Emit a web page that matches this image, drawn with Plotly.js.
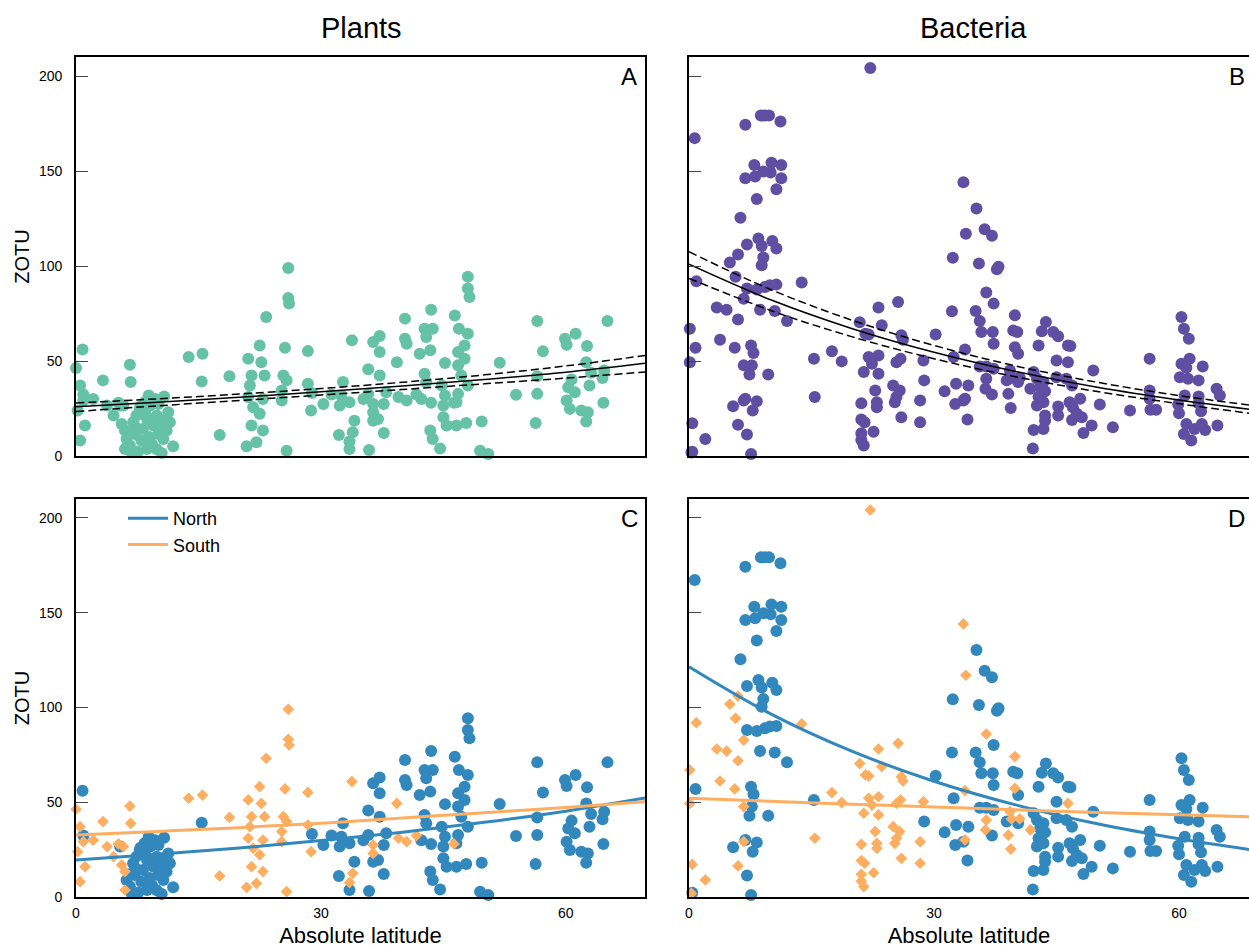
<!DOCTYPE html>
<html>
<head>
<meta charset="utf-8">
<script src="https://cdn.plot.ly/plotly-3.0.1.min.js"></script>
<style>html,body{margin:0;padding:0;background:#fff;}#chart{width:1249px;height:948px;}</style>
</head>
<body>
<div id="chart"></div>
<script>
// ---------------- DATA ----------------
const tickLat = [0, 30, 60];
const tickZotu = [0, 50, 100, 150, 200];
const columnTitles = ["Plants", "Bacteria"];
const panelLetters = ["A", "B", "C", "D"];

// Plants, northern hemisphere samples
const plantsNorthLat = [0.8,0.9,5.4,15.4,8.9,10.8,7.8,9.1,10.1,11.3,11.5,11.1,10.7,11.9,10.5,7.6,6.6,6.2,7.2,8.2,9.5,8.7,7.4,9.9,8.0,9.3,10.1,8.7,7.0,10.7,9.7,8.4,6.8,9.9,7.3,8.5,10.4,9.0,6.5,7.9,
  28.9,30.3,31.3,32.7,32.5,32.3,33.5,34.1,32.2,33.5,35.9,36.4,37.2,37.2,35.8,37.2,35.2,35.8,37.7,37.0,36.4,37.7,38.0,40.3,40.3,40.5,42.7,42.9,43.5,43.7,42.1,43.4,45.2,42.7,42.9,42.3,43.5,44.8,45.2,45.0,45.0,45.4,43.4,43.7,44.6,
  48.0,48.0,48.2,46.4,46.9,48.0,47.6,46.8,47.6,46.8,47.2,48.0,46.8,46.6,46.6,47.8,49.7,49.5,50.5,51.9,53.9,56.5,57.2,56.5,56.5,56.3,59.9,60.1,61.2,62.6,62.5,63.1,60.7,60.3,61.1,60.1,60.5,61.9,62.7,62.5,62.9,64.6,64.7,64.5,65.1];
const plantsNorthZotu = [56.1,32.4,26.6,39.2,31.8,31.3,24.8,26.6,27.4,23.0,17.8,13.4,9.0,5.1,1.6,2.3,5.5,9.0,11.6,14.2,16.0,19.5,21.3,21.3,8.1,6.3,11.6,3.7,17.8,16.9,30.0,28.3,2.0,3.5,15.0,22.0,19.0,10.0,12.0,26.0,
  33.2,27.4,32.4,38.9,31.8,26.6,28.3,18.6,11.1,3.7,3.2,60.0,63.1,54.7,45.6,42.4,30.0,32.7,27.4,19.5,18.6,12.1,33.6,72.3,61.7,59.1,67.0,62.6,77.0,67.0,53.8,55.6,49.0,43.3,38.9,30.0,28.0,37.1,31.8,26.6,20.4,16.0,13.4,9.0,4.0,
  94.3,88.1,83.7,74.0,67.0,64.4,58.2,54.7,51.2,47.7,42.4,37.1,32.7,28.3,16.0,17.4,18.1,2.8,1.1,49.1,32.2,71.1,55.1,42.0,32.7,17.4,61.7,58.6,64.4,57.9,49.4,43.8,40.3,36.2,33.6,29.2,24.8,23.9,23.0,18.1,37.1,28.0,45.0,41.0,71.1];

// Plants, southern hemisphere samples
const plantsSouthLat = [0.0,0.5,0.9,0.2,1.1,0.5,2.1,3.3,3.8,4.6,5.2,5.8,5.6,6.0,6.6,6.7,6.0,13.8,15.5,18.8,17.6,21.1,21.5,21.3,22.7,22.5,23.3,23.1,21.1,21.7,22.5,22.9,21.5,22.9,22.1,20.9,26.0,26.0,26.1,25.6,28.4,33.8,25.4,25.8,28.4,25.2,25.2,28.8,25.8,33.9,33.5,36.4,36.4,39.3,39.5,40.5,41.7,46.3];
const plantsSouthZotu = [46.3,37.1,29.2,23.9,16.0,8.1,30.0,39.8,26.6,21.3,28.0,26.6,16.9,13.4,48.0,38.9,3.7,52.1,53.8,42.0,11.1,51.2,42.4,37.1,49.4,58.2,73.2,42.4,31.0,25.7,22.2,30.0,16.0,13.4,7.2,5.1,99.0,83.2,80.2,57.0,55.2,60.9,42.4,39.8,38.0,34.5,29.2,23.9,2.8,12.5,7.6,27.4,23.0,49.4,31.0,29.2,32.4,28.0];

// Bacteria, northern hemisphere samples
const bactNorthLat = [0.7,6.9,8.8,9.3,9.8,11.2,8.0,10.1,11.3,6.9,8.1,9.1,10.0,11.3,10.7,8.3,6.3,8.5,7.1,8.9,10.2,10.7,9.1,8.9,7.1,8.3,9.3,9.9,10.7,8.7,10.5,12.0,0.8,7.6,7.9,7.7,7.4,9.7,15.3,6.9,8.3,5.4,7.8,7.1,7.6,0.4,
  35.2,36.2,37.1,32.3,35.5,37.7,37.9,37.3,32.2,35.1,35.6,35.8,37.2,37.3,30.2,32.4,35.6,36.4,37.3,28.8,31.3,32.7,32.6,33.6,34.2,34.1,37.1,39.7,40.2,40.3,40.3,38.9,43.7,43.2,44.6,45.2,42.8,46.4,46.7,45.0,
  42.2,42.6,43.4,43.0,43.6,42.8,45.0,46.2,46.9,43.4,42.6,45.2,45.2,46.6,47.9,47.0,47.5,48.1,46.9,43.6,43.6,43.4,42.2,49.3,48.3,49.5,50.3,51.9,54.0,42.1,
  56.4,56.4,56.4,56.5,57.2,60.3,60.6,61.2,61.3,60.3,60.9,62.9,60.1,61.1,62.4,60.7,62.4,59.9,62.4,60.0,62.7,64.6,65.0,60.9,61.9,62.8,63.2,64.7,60.6,61.5];
const bactNorthZotu = [167.3,174.3,179.2,179.2,179.2,176.1,153.2,154.4,153.2,146.2,147.1,149.7,149.2,146.2,140.4,135.3,125.4,114.5,111.3,110.5,113.1,109.2,104.5,100.4,88.1,87.6,89.0,89.9,90.2,77.0,76.3,71.1,57.0,58.2,54.2,47.7,42.9,42.9,51.2,30.1,28.8,26.2,23.9,11.3,1.1,2.3,
  130.3,119.4,115.9,104.3,101.3,98.3,99.6,80.2,76.2,76.3,71.1,65.3,65.3,59.1,64.0,52.1,47.1,47.1,45.9,39.8,34.1,38.0,27.4,29.2,37.1,19.2,32.4,66.1,65.3,53.8,38.9,39.8,70.5,65.6,65.3,63.0,58.2,58.2,57.9,50.3,
  44.2,40.6,38.9,36.2,34.1,31.0,41.5,40.6,37.1,28.3,26.6,26.0,21.3,28.3,30.1,25.7,22.2,20.4,19.0,21.3,18.6,14.2,13.7,16.0,12.1,45.0,27.1,15.1,23.9,4.0,
  51.2,34.5,30.1,24.3,24.3,73.2,67.0,61.7,51.2,48.5,46.4,47.1,41.5,40.6,39.8,31.8,31.3,27.1,27.8,22.5,23.6,35.4,31.8,16.9,14.2,16.9,13.7,16.0,11.6,8.1];

// Bacteria, southern hemisphere samples
const bactSouthLat = [22.2,0.9,5.0,5.7,6.0,6.7,3.4,4.6,6.0,0.1,3.8,5.6,0.1,6.7,13.8,17.5,18.7,15.4,6.7,0.4,2.0,6.0,0.3,23.2,20.9,21.6,22.0,23.6,22.0,23.2,22.4,21.4,23.2,22.8,23.0,23.0,21.1,21.1,21.5,22.6,21.1,21.1,21.4,33.6,33.9,36.4,25.6,26.0,26.2,25.4,25.9,28.7,25.0,25.8,25.4,25.2,26.0,28.3,28.3,33.8,33.8,36.4,36.3,39.1,39.4,39.9,39.9,39.3,40.5,39.5,41.8,46.4];
const bactSouthZotu = [204.2,92.0,101.8,94.3,106.0,82.8,78.1,77.0,71.9,67.0,61.2,57.0,49.4,47.7,91.3,55.1,49.8,31.0,29.2,17.2,9.0,16.4,1.9,78.1,70.4,64.4,63.9,68.8,52.1,52.9,48.5,44.2,43.3,34.5,28.3,25.7,27.8,19.2,17.8,12.8,12.0,8.4,5.5,144.1,117.0,86.0,81.1,63.5,61.2,49.4,51.2,50.3,37.1,34.5,31.0,28.3,20.4,29.2,17.8,56.1,30.1,40.6,35.4,32.7,25.3,74.1,57.3,45.0,41.2,41.2,35.4,49.4];

// Fitted curves
const fitLatPlants = [0, 10, 20, 30, 40, 50, 60, 69.7];
const plantsFit = [25.9, 28.3, 30.9, 33.8, 36.9, 40.3, 44.1, 48.8];
const plantsFitUpper = [27.9, 30.1, 32.6, 35.5, 38.8, 42.7, 47.4, 52.9];
const plantsFitLower = [23.4, 26.4, 29.2, 32.1, 35.0, 38.0, 41.0, 44.2];
const plantsNorthFit = [19.5, 22.5, 25.8, 29.8, 34.2, 39.4, 45.3, 52.2];
const plantsSouthFit = [32.7, 34.6, 36.6, 38.9, 41.7, 44.5, 47.2, 50.2];

const fitLatBact = [0, 10, 20, 30, 40, 50, 60, 68.6];
const bactFit = [100.9, 82.2, 67.0, 54.6, 44.5, 36.2, 29.5, 24.6];
const bactFitUpper = [107.5, 87.6, 71.4, 58.2, 47.4, 38.8, 31.8, 26.8];
const bactFitLower = [93.5, 76.6, 62.7, 51.2, 41.7, 33.9, 27.5, 22.5];
const bactNorthFit = [121.5, 96.6, 76.8, 61.1, 48.6, 38.6, 30.7, 25.1];
const bactSouthFit = [52.1, 50.5, 49.0, 47.5, 46.0, 44.6, 43.4, 42.3];

// ---------------- STYLE ----------------
const W = 1249, H = 948;
const FONT = 'Liberation Sans, Arial, Helvetica, sans-serif';
const GREEN = '#66c2a5', PURPLE = '#5e4fa2', BLUE = '#3288bd', ORANGE = '#fdae61';
const px = v => v / W;
const py = v => 1 - v / H;

function pts(x, y, color, symbol, size, xa, ya, name) {
  return {type: 'scatter', mode: 'markers', x: x, y: y, xaxis: xa, yaxis: ya, name: name,
    showlegend: false, cliponaxis: false, hoverinfo: 'x+y',
    marker: {color: color, size: size, symbol: symbol, line: {width: 0}}};
}
function ln(x, y, color, width, dash, xa, ya, name, legend) {
  return {type: 'scatter', mode: 'lines', x: x, y: y, xaxis: xa, yaxis: ya, name: name,
    showlegend: !!legend, line: {color: color, width: width, dash: dash, shape: 'spline'}, hoverinfo: 'skip'};
}

const traces = [
  // A
  pts(plantsNorthLat.concat(plantsSouthLat), plantsNorthZotu.concat(plantsSouthZotu), GREEN, 'circle', 12, 'x', 'y', 'Plants'),
  ln(fitLatPlants, plantsFitUpper, 'black', 1.5, '8px,4px', 'x', 'y', 'upper'),
  ln(fitLatPlants, plantsFitLower, 'black', 1.5, '8px,4px', 'x', 'y', 'lower'),
  ln(fitLatPlants, plantsFit, 'black', 1.5, 'solid', 'x', 'y', 'fit'),
  // B
  pts(bactNorthLat.concat(bactSouthLat), bactNorthZotu.concat(bactSouthZotu), PURPLE, 'circle', 12, 'x2', 'y2', 'Bacteria'),
  ln(fitLatBact, bactFitUpper, 'black', 1.5, '8px,4px', 'x2', 'y2', 'upper'),
  ln(fitLatBact, bactFitLower, 'black', 1.5, '8px,4px', 'x2', 'y2', 'lower'),
  ln(fitLatBact, bactFit, 'black', 1.5, 'solid', 'x2', 'y2', 'fit'),
  // C
  pts(plantsNorthLat, plantsNorthZotu, BLUE, 'circle', 12, 'x3', 'y3', 'North'),
  pts(plantsSouthLat, plantsSouthZotu, ORANGE, 'diamond', 9, 'x3', 'y3', 'South'),
  ln(fitLatPlants, plantsNorthFit, BLUE, 3, 'solid', 'x3', 'y3', 'North', true),
  ln(fitLatPlants, plantsSouthFit, ORANGE, 3, 'solid', 'x3', 'y3', 'South', true),
  // D
  pts(bactNorthLat, bactNorthZotu, BLUE, 'circle', 12, 'x4', 'y4', 'North'),
  pts(bactSouthLat, bactSouthZotu, ORANGE, 'diamond', 9, 'x4', 'y4', 'South'),
  ln(fitLatBact, bactNorthFit, BLUE, 3, 'solid', 'x4', 'y4', 'North'),
  ln(fitLatBact, bactSouthFit, ORANGE, 3, 'solid', 'x4', 'y4', 'South')
];

const leftX = [px(76), px(645)];
const rightX = [px(689), 1];
const topY = [py(456), py(57)];
const botY = [py(897), py(499)];

function xaxis(domain, range, anchor, labels, title) {
  const a = {domain: domain, range: range, anchor: anchor, showline: true, mirror: true,
    linecolor: 'black', linewidth: 1.6, ticks: '', showgrid: false, zeroline: false,
    tickvals: tickLat, showticklabels: labels, tickfont: {size: 14, color: 'black'}, ticklabelstandoff: 2, fixedrange: true};
  if (title) a.title = {text: title, font: {size: 22, color: 'black'}, standoff: 10};
  return a;
}
function yaxis(domain, anchor, labels, mirror, title) {
  const a = {domain: domain, range: [0, 210], anchor: anchor, showline: true, mirror: mirror,
    linecolor: 'black', linewidth: 1.6, ticks: 'inside', ticklen: 12, tickwidth: 1, tickcolor: '#444',
    tickvals: tickZotu, showticklabels: labels, tickfont: {size: 14, color: 'black'}, ticklabelstandoff: 9,
    showgrid: false, zeroline: false, fixedrange: true};
  if (title) a.title = {text: title, font: {size: 20, color: 'black'}, standoff: 4};
  return a;
}

const layout = {
  width: W, height: H,
  margin: {l: 0, r: 0, t: 0, b: 0, pad: 0},
  paper_bgcolor: 'white', plot_bgcolor: 'white',
  font: {family: FONT, color: 'black'},
  showlegend: true,
  legend: {x: px(123), y: py(500), xanchor: 'left', yanchor: 'top', bgcolor: 'rgba(0,0,0,0)',
    font: {size: 18, color: 'black'}, borderwidth: 0, itemwidth: 40, tracegroupgap: 0},
  xaxis: xaxis(leftX, [0, 69.7], 'y', false),
  yaxis: yaxis(topY, 'x', true, true, 'ZOTU'),
  xaxis2: xaxis(rightX, [0, 68.57], 'y2', false),
  yaxis2: yaxis(topY, 'x2', false, false),
  xaxis3: xaxis(leftX, [0, 69.7], 'y3', true, 'Absolute latitude'),
  yaxis3: yaxis(botY, 'x3', true, true, 'ZOTU'),
  xaxis4: xaxis(rightX, [0, 68.57], 'y4', true, 'Absolute latitude'),
  yaxis4: yaxis(botY, 'x4', false, false),
  annotations: [
    {text: columnTitles[0], x: px(361), y: py(28), xref: 'paper', yref: 'paper', xanchor: 'center', yanchor: 'middle', showarrow: false, font: {size: 29}},
    {text: columnTitles[1], x: px(973.5), y: py(28), xref: 'paper', yref: 'paper', xanchor: 'center', yanchor: 'middle', showarrow: false, font: {size: 29}},
    {text: panelLetters[0], x: px(629), y: py(76), xref: 'paper', yref: 'paper', xanchor: 'center', yanchor: 'middle', showarrow: false, font: {size: 24}},
    {text: panelLetters[1], x: px(1247), y: py(76), xref: 'paper', yref: 'paper', xanchor: 'right', yanchor: 'middle', showarrow: false, font: {size: 24}},
    {text: panelLetters[2], x: px(629), y: py(518), xref: 'paper', yref: 'paper', xanchor: 'center', yanchor: 'middle', showarrow: false, font: {size: 24}},
    {text: panelLetters[3], x: px(1247), y: py(518), xref: 'paper', yref: 'paper', xanchor: 'right', yanchor: 'middle', showarrow: false, font: {size: 24}}
  ]
};

Plotly.newPlot('chart', traces, layout, {displayModeBar: false, staticPlot: false, responsive: false});
</script>
</body>
</html>
